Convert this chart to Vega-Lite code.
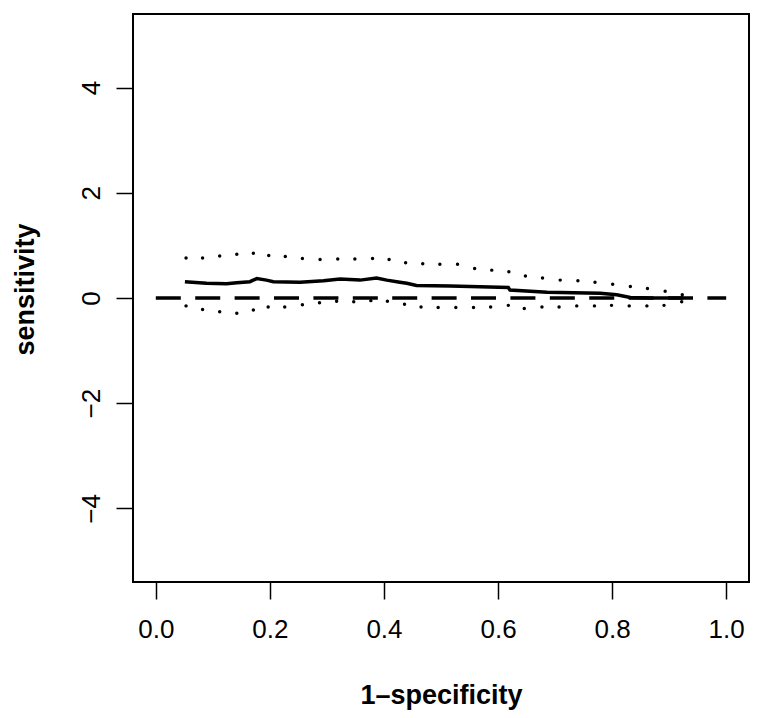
{
  "$schema": "https://vega.github.io/schema/vega-lite/v6.json",
  "autosize": {"type": "none"},
  "width": 616,
  "height": 568,
  "padding": {"left": 133, "top": 14, "right": 15, "bottom": 136},
  "background": "white",
  "config": {
    "view": {"stroke": "black", "strokeWidth": 2},
    "font": "Liberation Sans",
    "axis": {
      "grid": false,
      "domain": false,
      "ticks": true,
      "tickColor": "black",
      "tickWidth": 1.5,
      "tickSize": 17,
      "labelColor": "black",
      "labelFont": "Liberation Sans",
      "labelFontSize": 26,
      "titleFont": "Liberation Sans",
      "titleFontSize": 27,
      "titleFontWeight": "bold",
      "titleColor": "black"
    }
  },
  "datasets": {
    "mean": [
      {"x": 0.051, "y": 0.31}, {"x": 0.089, "y": 0.28}, {"x": 0.124, "y": 0.27},
      {"x": 0.142, "y": 0.29}, {"x": 0.165, "y": 0.31}, {"x": 0.177, "y": 0.37},
      {"x": 0.194, "y": 0.34}, {"x": 0.206, "y": 0.31}, {"x": 0.253, "y": 0.30},
      {"x": 0.294, "y": 0.33}, {"x": 0.323, "y": 0.36}, {"x": 0.358, "y": 0.34},
      {"x": 0.387, "y": 0.38}, {"x": 0.405, "y": 0.34}, {"x": 0.428, "y": 0.30},
      {"x": 0.440, "y": 0.28}, {"x": 0.457, "y": 0.24}, {"x": 0.516, "y": 0.23},
      {"x": 0.551, "y": 0.22}, {"x": 0.618, "y": 0.20}, {"x": 0.621, "y": 0.15},
      {"x": 0.686, "y": 0.11}, {"x": 0.779, "y": 0.09}, {"x": 0.808, "y": 0.06},
      {"x": 0.832, "y": 0.01}, {"x": 0.867, "y": 0.00}, {"x": 0.925, "y": 0.00}
    ],
    "upper": [
      {"x": 0.053, "y": 0.76}, {"x": 0.082, "y": 0.76}, {"x": 0.112, "y": 0.80},
      {"x": 0.142, "y": 0.83}, {"x": 0.171, "y": 0.85}, {"x": 0.198, "y": 0.81},
      {"x": 0.227, "y": 0.79}, {"x": 0.257, "y": 0.75}, {"x": 0.288, "y": 0.73},
      {"x": 0.319, "y": 0.74}, {"x": 0.349, "y": 0.74}, {"x": 0.380, "y": 0.75},
      {"x": 0.409, "y": 0.73}, {"x": 0.438, "y": 0.67}, {"x": 0.468, "y": 0.65},
      {"x": 0.498, "y": 0.64}, {"x": 0.529, "y": 0.64}, {"x": 0.559, "y": 0.56},
      {"x": 0.589, "y": 0.53}, {"x": 0.619, "y": 0.50}, {"x": 0.648, "y": 0.42},
      {"x": 0.678, "y": 0.38}, {"x": 0.709, "y": 0.34}, {"x": 0.740, "y": 0.33},
      {"x": 0.770, "y": 0.30}, {"x": 0.801, "y": 0.26}, {"x": 0.832, "y": 0.22},
      {"x": 0.862, "y": 0.18}, {"x": 0.893, "y": 0.13}, {"x": 0.923, "y": 0.06}
    ],
    "lower": [
      {"x": 0.053, "y": -0.15}, {"x": 0.082, "y": -0.22}, {"x": 0.112, "y": -0.26},
      {"x": 0.142, "y": -0.29}, {"x": 0.171, "y": -0.23}, {"x": 0.197, "y": -0.17},
      {"x": 0.226, "y": -0.17}, {"x": 0.257, "y": -0.13}, {"x": 0.287, "y": -0.09},
      {"x": 0.317, "y": -0.06}, {"x": 0.347, "y": -0.07}, {"x": 0.377, "y": -0.05},
      {"x": 0.406, "y": -0.06}, {"x": 0.436, "y": -0.12}, {"x": 0.465, "y": -0.17},
      {"x": 0.495, "y": -0.18}, {"x": 0.526, "y": -0.18}, {"x": 0.557, "y": -0.18},
      {"x": 0.587, "y": -0.17}, {"x": 0.618, "y": -0.14}, {"x": 0.646, "y": -0.20},
      {"x": 0.677, "y": -0.17}, {"x": 0.707, "y": -0.17}, {"x": 0.738, "y": -0.15},
      {"x": 0.769, "y": -0.15}, {"x": 0.799, "y": -0.14}, {"x": 0.830, "y": -0.15},
      {"x": 0.861, "y": -0.15}, {"x": 0.891, "y": -0.14}, {"x": 0.922, "y": -0.07}
    ],
    "ref": [
      {"x": 0.0, "y": 0.0}, {"x": 1.0, "y": 0.0}
    ]
  },
  "encoding": {
    "x": {
      "field": "x", "type": "quantitative",
      "scale": {"domain": [-0.04, 1.04], "nice": false, "zero": false},
      "axis": {
        "title": "1–specificity",
        "values": [0, 0.2, 0.4, 0.6, 0.8, 1.0],
        "format": ".1f",
        "labelBaseline": "alphabetic",
        "labelPadding": 38,
        "titleBaseline": "alphabetic",
        "titleY": 121,
        "titleX": 308,
        "titleAnchor": "middle",
        "titleAlign": "center"
      }
    },
    "y": {
      "field": "y", "type": "quantitative",
      "scale": {"domain": [-5.4, 5.4], "nice": false, "zero": false},
      "axis": {
        "title": "sensitivity",
        "values": [-4, -2, 0, 2, 4],
        "format": "d",
        "labelAngle": -90,
        "labelAlign": "center",
        "labelBaseline": "alphabetic",
        "labelPadding": 17,
        "titleAngle": -90,
        "titleBaseline": "alphabetic",
        "titleAlign": "center",
        "titleX": -100,
        "titleY": 275
      }
    }
  },
  "layer": [
    {
      "data": {"name": "ref"},
      "mark": {"type": "line", "color": "black", "strokeWidth": 3.5, "strokeDash": [25, 14.4], "strokeCap": "butt"}
    },
    {
      "data": {"name": "mean"},
      "mark": {"type": "line", "color": "black", "strokeWidth": 3.5, "interpolate": "linear"}
    },
    {
      "data": {"name": "upper"},
      "mark": {"type": "point", "filled": true, "color": "black", "size": 12, "opacity": 1}
    },
    {
      "data": {"name": "lower"},
      "mark": {"type": "point", "filled": true, "color": "black", "size": 12, "opacity": 1}
    }
  ]
}
